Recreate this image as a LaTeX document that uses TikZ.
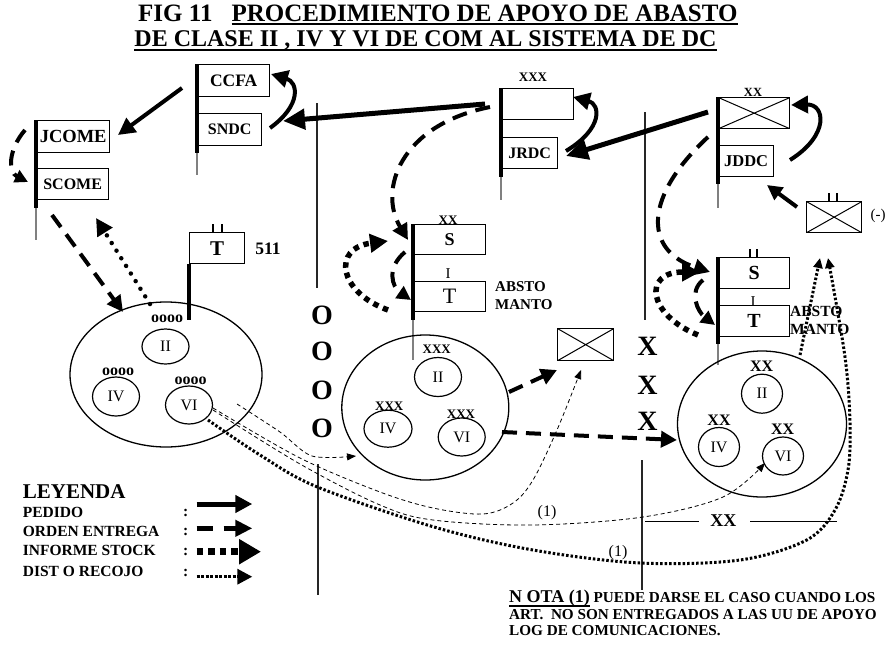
\documentclass[tikz,border=0pt]{standalone}
\usepackage{fontspec}
\setmainfont{Liberation Serif}
\usetikzlibrary{arrows.meta,shapes.geometric}
\newcommand\setfs[1]{\fontsize{#1}{#1}\selectfont}
\newcommand\myul[1]{\setbox0\hbox{#1}\rlap{\rule[-4pt]{\wd0}{1.6pt}}\box0\relax}
\tikzset{
  bx/.style={draw, line width=1.3pt, inner sep=0pt, anchor=north west, font=\bfseries\setfs{16.5}},
  xbox/.style={bx, path picture={\draw[line width=1pt] (path picture bounding box.north west) -- (path picture bounding box.south east) (path picture bounding box.south west) -- (path picture bounding box.north east);}},
  stf/.style={line width=3.6pt},
  stfthin/.style={line width=1.2pt, draw=black!50},
  vln/.style={line width=1.2pt, draw=black!85},
  tick/.style={line width=2.2pt},
  ell/.style={draw, ellipse, line width=1.3pt, inner sep=0pt},
  sml/.style={draw, ellipse, line width=1.2pt, inner sep=0pt, font=\setfs{16}},
  lbl/.style={font=\bfseries\setfs{13}, inner sep=0pt},
  txt/.style={inner sep=0pt},
  big/.style={font=\bfseries\setfs{28}, inner sep=0pt},
  sarr/.style={line width=4pt, -{Triangle[length=17pt,width=17pt]}},
  darr/.style={line width=4pt, dash pattern=on 15pt off 9pt, -{Triangle[length=16pt,width=16pt]}},
  rdot/.style={line width=4.5pt, line cap=round, dash pattern=on 0pt off 9pt, -{Triangle[length=17pt,width=17pt]}},
  sqdot/.style={line width=5.5pt, dash pattern=on 5.5pt off 5pt, -{Triangle[length=18pt,width=18pt]}},
  fdot/.style={line width=3pt, dash pattern=on 2.5pt off 2pt, -{Triangle[length=10pt,width=9pt]}},
  tdash/.style={line width=0.8pt, dash pattern=on 4pt off 3pt, -{Triangle[length=9pt,width=7pt]}},
}
\begin{document}
\begin{tikzpicture}[x=1pt,y=-1pt]
\useasboundingbox (0,0) rectangle (888,645);
\clip (0,0) rectangle (888,645);
% ---------- title
\node[anchor=base west, font=\bfseries\setfs{25}, inner sep=0pt] (t1) at (138,21) {FIG 11\hspace{19pt}\myul{PROCEDIMIENTO DE APOYO DE ABASTO}};
\node[anchor=base, font=\bfseries\setfs{24}, inner sep=0pt] (t2) at (425.5,46.5) {\myul{DE CLASE II , IV Y VI DE COM AL SISTEMA DE DC}};
% ---------- vertical separators
\draw[vln] (317,103) -- (317,288);
\draw[vln] (318,464) -- (318,595);
\draw[vln] (645,112) -- (645,320);
\draw[vln] (642,460) -- (642,590);
% ---------- left flag JCOME / SCOME
\node[bx, minimum width=73pt, minimum height=32pt, font=\bfseries\setfs{18.5}] (jcome) at (36,120) {JCOME};
\node[bx, minimum width=72pt, minimum height=31pt, font=\bfseries\setfs{16}] (scome) at (36,168) {SCOME};
\draw[stf] (jcome.north west) -- ++(0,88) coordinate (jst);
\draw[stfthin] (jst) -- ++(0,32);
% ---------- CCFA / SNDC
\node[bx, minimum width=72pt, minimum height=32pt, font=\bfseries\setfs{17.5}] (ccfa) at (197,64) {CCFA};
\node[bx, minimum width=64pt, minimum height=32pt, font=\bfseries\setfs{16}] (sndc) at (197,113) {SNDC};
\draw[stf] (ccfa.north west) -- ++(0,89) coordinate (cst);
\draw[stfthin] (cst) -- ++(0,22);
% ---------- XXX / JRDC
\node[bx, minimum width=72pt, minimum height=31pt] (xxxb) at (501,88) {};
\node[lbl] (xxxl) at (533,77) {XXX};
\node[bx, minimum width=56pt, minimum height=31pt, font=\bfseries\setfs{16}] (jrdc) at (501,137) {JRDC};
\draw[stf] (xxxb.north west) -- ++(0,89) coordinate (xst);
\draw[stfthin] (xst) -- ++(0,23);
% ---------- middle S / T
\node[bx, minimum width=72pt, minimum height=30pt, font=\bfseries\setfs{18}] (ms) at (413,224) {S};
\node[lbl] (msl) at (448,220) {XX};
\node[txt, font=\setfs{15}] (mi) at (448,274) {I};
\node[bx, minimum width=72pt, minimum height=30pt, font=\setfs{22}] (mt) at (413,281) {T};
\node[txt, anchor=west, font=\bfseries\setfs{15}] (mab) at (495,287) {ABSTO};
\node[txt, anchor=west, font=\bfseries\setfs{15}] (mma) at (495,305) {MANTO};
\draw[stf] (ms.north west) -- ++(0,96) coordinate (mst);
\draw[stfthin] (mst) -- ++(0,40);
% ---------- T 511
\node[bx, minimum width=55pt, minimum height=31pt, font=\bfseries\setfs{21}] (t511) at (189,232) {T};
\draw[tick] (213,224) -- (213,232);
\draw[tick] (221.7,224) -- (221.7,232);
\node[txt, font=\bfseries\setfs{17.5}] (n511) at (268,249) {511};
\draw[stf] (t511.south west) -- (189,320);
% ---------- right XX / JDDC
\node[xbox, minimum width=71pt, minimum height=31pt] (rxx) at (718,97) {};
\node[lbl, font=\bfseries\setfs{12.5}] (rxxl) at (753,92) {XX};
\node[bx, minimum width=55pt, minimum height=31pt] (jddc) at (718,145) {JDDC};
\draw[stf] (rxx.north west) -- ++(0,87) coordinate (rst);
\draw[stfthin] (rst) -- ++(0,24);
% ---------- right S / T
\node[bx, minimum width=71pt, minimum height=31pt, font=\bfseries\setfs{20}] (rs) at (718,257) {S};
\draw[tick] (750,249) -- (750,257);
\draw[tick] (756.7,249) -- (756.7,257);
\node[txt, font=\setfs{15}] (ri) at (753,302) {I};
\node[bx, minimum width=71pt, minimum height=31pt, font=\bfseries\setfs{20}] (rt) at (718,305) {T};
\node[txt, anchor=west, font=\bfseries\setfs{15.5}] (rab) at (790,311) {ABSTO};
\node[txt, anchor=west, font=\bfseries\setfs{15.5}] (rma) at (790,329) {MANTO};
\draw[stf] (rs.north west) -- ++(0,87) coordinate (rst2);
\draw[stfthin] (rst2) -- ++(0,21);
% ---------- small cross box (-)
\node[xbox, minimum width=55pt, minimum height=31pt] (scx) at (806,201) {};
\draw[tick] (829.3,193) -- (829.3,201);
\draw[tick] (837.3,193) -- (837.3,201);
\node[txt, font=\setfs{15}] (minus) at (878,216) {(-)};
% ---------- middle cross box
\node[xbox, minimum width=56pt, minimum height=32pt] (mcx) at (557,328) {};
% ---------- ellipses
\node[ell, minimum width=192pt, minimum height=145pt] (e1) at (166,374.5) {};
\node[sml, minimum width=47pt, minimum height=35pt] (e1a) at (165.5,346.5) {II};
\node[sml, minimum width=47pt, minimum height=39pt] (e1b) at (116,396.5) {IV};
\node[sml, minimum width=47pt, minimum height=38pt] (e1c) at (189,405) {VI};
\node[txt, font=\bfseries\setfs{16}] at (167,319) {oooo};
\node[txt, font=\bfseries\setfs{16}] at (118,372) {oooo};
\node[txt, font=\bfseries\setfs{16}] at (190.7,381) {oooo};
\node[ell, minimum width=167pt, minimum height=145pt] (e2) at (425.3,407.5) {};
\node[sml, minimum width=47pt, minimum height=39pt] (e2a) at (438,377) {II};
\node[sml, minimum width=48pt, minimum height=37pt] (e2b) at (388,428.7) {IV};
\node[sml, minimum width=47pt, minimum height=38pt] (e2c) at (461.7,437) {VI};
\node[lbl] at (436.7,349.3) {XXX};
\node[lbl] at (389.3,406) {XXX};
\node[lbl] at (461,414.3) {XXX};
\node[ell, minimum width=169pt, minimum height=146pt] (e3) at (762,424) {};
\node[sml, minimum width=41pt, minimum height=39pt] (e3a) at (762,393.7) {II};
\node[sml, minimum width=41pt, minimum height=39pt] (e3b) at (719,447) {IV};
\node[sml, minimum width=41pt, minimum height=38pt] (e3c) at (783,456) {VI};
\node[txt, font=\bfseries\setfs{16}] at (761.7,366.7) {XX};
\node[txt, font=\bfseries\setfs{16}] at (719,420) {XX};
\node[txt, font=\bfseries\setfs{16}] at (782.7,429.3) {XX};
% ---------- O and X columns
\foreach \yy in {315,351.7,390,428} \node[big] at (322,\yy) {O};
\foreach \yy in {346.7,385,421.7} \node[big] at (647.5,\yy) {X};
% ---------- XX boundary at bottom
\node[txt, font=\bfseries\setfs{18}] (bxx) at (723.3,521) {XX};
\draw[line width=1pt] (645,521) -- (699,521);
\draw[line width=1pt] (750,521) -- (836.7,521);
% ---------- solid (PEDIDO) arrows
\coordinate (p1s) at (182,88); \coordinate (p1e) at (118,135);
\draw[sarr] (p1s) -- (p1e);
\draw[sarr] (270,128) .. controls (302,105) and (298,82) .. (271,74);
\draw[line width=5pt, -{Triangle[length=22pt,width=20pt]}] (485,104) -- (283,121);
\draw[sarr] (566,151) .. controls (604,128) and (600,104) .. (573,97);
\draw[line width=5pt, -{Triangle[length=22pt,width=20pt]}] (708,112) -- (566,156);
\draw[sarr] (790,160) .. controls (830,135) and (825,104) .. (791,105);
\draw[line width=4pt, -{Triangle[length=15pt,width=15pt]}] (797,207) -- (767,185);
% ---------- dashed (ORDEN ENTREGA) arrows
\draw[darr, -{Triangle[length=13pt,width=13pt]}] (25,130) .. controls (8,150) and (8,172) .. (28,182);
\draw[darr] (52,215) -- (123,312);
\draw[darr] (490,107) .. controls (400,125) and (378,190) .. (408,240);
\draw[darr, -{Triangle[length=14pt,width=14pt]}] (405,252) .. controls (386,268) and (392,287) .. (411,300);
\draw[darr] (708,137) .. controls (645,195) and (642,250) .. (710,272);
\draw[darr, -{Triangle[length=14pt,width=14pt]}] (703,280) .. controls (688,292) and (698,312) .. (715,325);
\draw[darr] (509,392) -- (557,370);
\draw[darr] (502,432) -- (677,440);
% ---------- stock report (dotted) arrows
\draw[rdot] (150,304) -- (96,218);
\draw[sqdot] (388,310) .. controls (338,292) and (332,248) .. (388,241);
\draw[sqdot] (698,335) .. controls (648,315) and (642,272) .. (700,272);
% ---------- distribution (fine dotted) arrows
\draw[fdot] (800,355) -- (820,258);
\draw[fdot] plot[smooth, tension=0.55] coordinates {(208,420) (260,455) (316.7,486.7) (433,526.7) (533,550) (640,563) (740,560) (806.7,540) (835,510) (848,470) (850,423) (845,357) (828,258)};
% ---------- thin dashed arrows (1)
\draw[tdash] plot[smooth, tension=0.5] coordinates {(237,404) (280,432) (312,456) (356,456)};
\draw[tdash] plot[smooth, tension=0.55] coordinates {(213,408) (300,458) (380,492) (433,508) (483,514) (513,503) (533,480) (557,430) (581,370)};
\draw[tdash] plot[smooth, tension=0.55] coordinates {(213,410) (300,464) (380,505) (433,520) (533,525) (643,517) (723,497) (765,463)};
\node[txt, font=\setfs{16}] at (547,513) {(1)};
\node[txt, font=\setfs{16}] at (618,553) {(1)};
% ---------- legend
\node[txt, anchor=west, font=\bfseries\setfs{21}] (ley) at (22.7,491.7) {LEYENDA};
\node[txt, anchor=west, font=\bfseries\setfs{15.5}] (lg1) at (22.7,512.7) {PEDIDO};
\node[txt, anchor=west, font=\bfseries\setfs{15.5}] (lg2) at (22.7,531.7) {ORDEN ENTREGA};
\node[txt, anchor=west, font=\bfseries\setfs{15.5}] (lg3) at (22.7,550.7) {INFORME STOCK};
\node[txt, anchor=west, font=\bfseries\setfs{15.5}] (lg4) at (22.7,571) {DIST O RECOJO};
\foreach \yy in {513,531.7,551.7,573} \node[txt, font=\bfseries\setfs{15.5}] at (185.7,\yy) {:};
\draw[line width=5pt, -{Triangle[length=17pt,width=17pt]}] (196.7,504) -- (252.3,504);
\draw[line width=5pt, dash pattern=on 16pt off 11pt, -{Triangle[length=17pt,width=16pt]}] (196.7,528.3) -- (252.3,528.3);
\draw[line width=6.5pt, dash pattern=on 6.5pt off 5pt, -{Triangle[length=22pt,width=24pt]}] (196.7,551.7) -- (261,551.7);
\draw[line width=3.3pt, dash pattern=on 3pt off 1.5pt, -{Triangle[length=15pt,width=15pt]}] (196.7,576.7) -- (252.3,576.7);
% ---------- note
\node[txt, anchor=base west, font=\bfseries\setfs{15.2}] (nota) at (509,602.7) {\myul{\setfs{18}N OTA (1)} PUEDE DARSE EL CASO CUANDO LOS};
\node[txt, anchor=base west, font=\bfseries\setfs{15.2}] (nota2) at (509,619.3) {ART.\ \ NO SON ENTREGADOS A LAS UU DE APOYO};
\node[txt, anchor=base west, font=\bfseries\setfs{15.2}] (nota3) at (509,635) {LOG DE COMUNICACIONES.};
\end{tikzpicture}
\end{document}
